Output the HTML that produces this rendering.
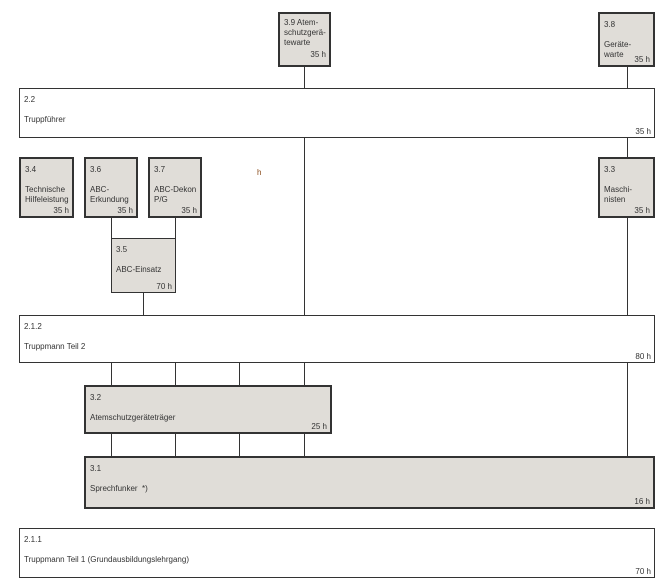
<!DOCTYPE html>
<html><head><meta charset="utf-8"><style>
body{margin:0;width:671px;height:584px;background:#fff;position:relative;font-family:"Liberation Sans",sans-serif;font-size:8px;color:#333;overflow:hidden}
.b{position:absolute;box-sizing:border-box;background:#fff;border:1px solid #333}
.g{background:#e0ddd8}
.t{border:2px solid #333}
.n{position:absolute;left:4px;top:6px;line-height:10px}
.h{position:absolute;right:3px;bottom:1px}
.v{position:absolute;width:1px;background:#333}
</style></head><body>
<div class="v" style="left:304px;top:66px;height:22px"></div>
<div class="v" style="left:627px;top:66px;height:22px"></div>
<div class="v" style="left:304px;top:137px;height:178px"></div>
<div class="v" style="left:627px;top:137px;height:178px"></div>
<div class="v" style="left:111px;top:217px;height:21px"></div>
<div class="v" style="left:175px;top:217px;height:21px"></div>
<div class="v" style="left:143px;top:292px;height:23px"></div>
<div class="v" style="left:111px;top:362px;height:94px"></div>
<div class="v" style="left:175px;top:362px;height:94px"></div>
<div class="v" style="left:239px;top:362px;height:94px"></div>
<div class="v" style="left:304px;top:362px;height:94px"></div>
<div class="v" style="left:627px;top:362px;height:94px"></div>

<div class="b g t" style="left:278px;top:12px;width:53px;height:55px"><div class="n" style="top:4px">3.9 Atem-<br>schutzgerä-<br>tewarte</div><div class="h" style="bottom:6px">35 h</div></div>
<div class="b g t" style="left:598px;top:12px;width:57px;height:55px"><div class="n">3.8<br><br>Geräte-<br>warte</div><div class="h">35 h</div></div>
<div class="b" style="left:19px;top:88px;width:636px;height:50px"><div class="n">2.2<br><br>Truppführer</div><div class="h">35 h</div></div>
<div class="b g t" style="left:19px;top:157px;width:55px;height:61px"><div class="n">3.4<br><br>Technische<br>Hilfeleistung</div><div class="h">35 h</div></div>
<div class="b g t" style="left:84px;top:157px;width:54px;height:61px"><div class="n">3.6<br><br>ABC-<br>Erkundung</div><div class="h">35 h</div></div>
<div class="b g t" style="left:148px;top:157px;width:54px;height:61px"><div class="n">3.7<br><br>ABC-Dekon<br>P/G</div><div class="h">35 h</div></div>
<div style="position:absolute;left:257px;top:168px;color:#8a4a1a">h</div>
<div class="b g t" style="left:598px;top:157px;width:57px;height:61px"><div class="n">3.3<br><br>Maschi-<br>nisten</div><div class="h">35 h</div></div>
<div class="b g" style="left:111px;top:238px;width:65px;height:55px"><div class="n">3.5<br><br>ABC-Einsatz</div><div class="h">70 h</div></div>
<div class="b" style="left:19px;top:315px;width:636px;height:48px"><div class="n">2.1.2<br><br>Truppmann Teil 2</div><div class="h">80 h</div></div>
<div class="b g t" style="left:84px;top:385px;width:248px;height:49px"><div class="n">3.2<br><br>Atemschutzgeräteträger</div><div class="h">25 h</div></div>
<div class="b g t" style="left:84px;top:456px;width:571px;height:53px"><div class="n">3.1<br><br>Sprechfunker &nbsp;*)</div><div class="h">16 h</div></div>
<div class="b" style="left:19px;top:528px;width:636px;height:50px"><div class="n">2.1.1<br><br>Truppmann Teil 1 (Grundausbildungslehrgang)</div><div class="h">70 h</div></div>
</body></html>
